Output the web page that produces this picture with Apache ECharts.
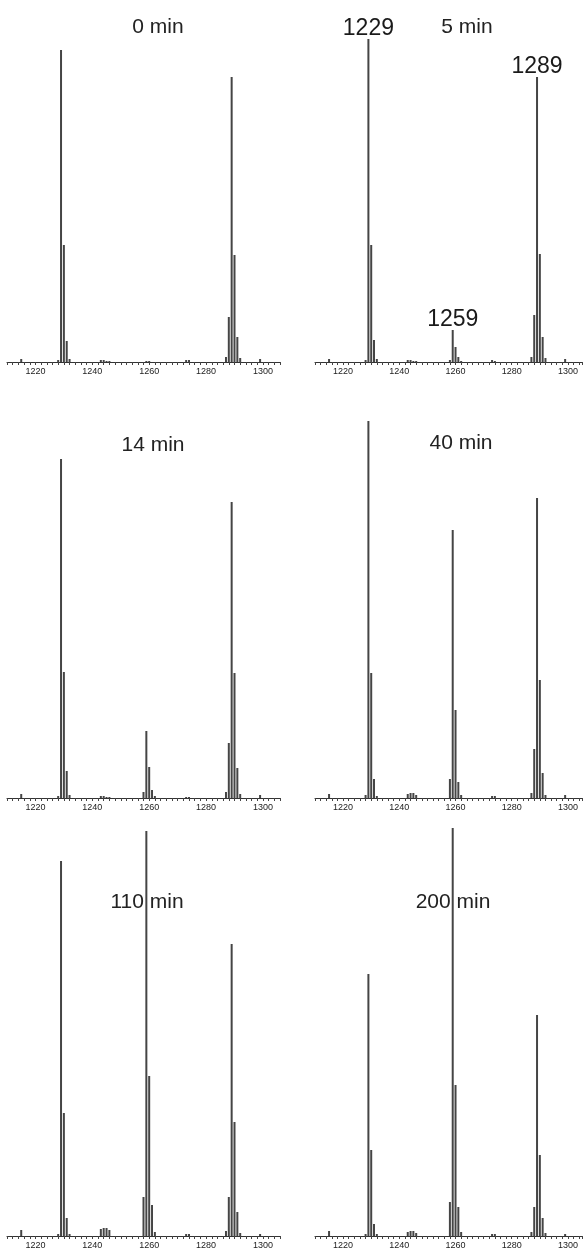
<!DOCTYPE html>
<html>
<head>
<meta charset="utf-8">
<script src="https://cdn.jsdelivr.net/npm/echarts@6/dist/echarts.min.js"></script>
<style>
  html, body { margin: 0; padding: 0; background: #fff; }
  #chart { width: 583px; height: 1250px; }
</style>
</head>
<body>
<div id="chart"></div>
<script>
// m/z of every stick, shared by all six spectra
const mz = [1215, 1228, 1229, 1230, 1231, 1232, 1243, 1244, 1245, 1246,
            1258, 1259, 1260, 1261, 1262, 1273, 1274, 1287, 1288, 1289, 1290, 1291, 1292, 1299];

// intensities (a.u.), same order as mz
const int0   = [3, 2, 312, 117, 21, 3, 2, 2, 1, 1,   0,   1,   1,  0, 0, 2, 2, 5, 45, 285, 107, 25, 4, 3];
const int5   = [3, 2, 323, 117, 22, 3, 2, 2, 1, 1,   2,  32,  15,  5, 1, 2, 1, 5, 47, 285, 108, 25, 4, 3];
const int14  = [4, 2, 339, 126, 27, 3, 2, 2, 1, 1,   6,  67,  31,  8, 2, 1, 1, 6, 55, 296, 125, 30, 4, 3];
const int40  = [4, 3, 377, 125, 19, 2, 4, 5, 5, 3,  19, 268,  88, 16, 3, 2, 2, 5, 49, 300, 118, 25, 3, 3];
const int110 = [6, 2, 375, 123, 18, 2, 7, 8, 8, 6,  39, 405, 160, 31, 4, 2, 2, 5, 39, 292, 114, 24, 3, 2];
const int200 = [5, 2, 262,  86, 12, 2, 4, 5, 5, 3,  34, 408, 151, 29, 4, 2, 2, 4, 29, 221,  81, 18, 3, 2];

const panelTitles = ['0 min', '5 min', '14 min', '40 min', '110 min', '200 min'];
const panelData = [int0, int5, int14, int40, int110, int200];
const tickLabels = [1220, 1240, 1260, 1280, 1300];
// peaks labelled in the "5 min" panel
const labelledPeaks = [1229, 1259, 1289];

const chart = echarts.init(document.getElementById('chart'));

// panel placement
const cols = [
  { left: 7, width: 273, min: 1210, max: 1306 },
  { left: 315, width: 267, min: 1210, max: 1305 }
];
const rows = [
  { top: 12, height: 350 },
  { top: 410, height: 388 },
  { top: 820, height: 416 }
];
const titlePos = [[158, 27], [467, 27], [153, 445], [461, 443], [147, 902], [453, 902]];

const font = 'Liberation Sans, Arial, sans-serif';
const grids = [], xAxes = [], yAxes = [], titles = [], series = [];

panelData.forEach((vals, i) => {
  const c = cols[i % 2], r = rows[Math.floor(i / 2)];
  grids.push({ left: c.left, width: c.width, top: r.top, height: r.height, outerBoundsMode: 'none' });
  xAxes.push({
    type: 'value', gridIndex: i, min: c.min, max: c.max, interval: 2,
    splitLine: { show: false },
    axisLine: { lineStyle: { color: '#333', width: 1 } },
    axisTick: { length: 3, lineStyle: { color: '#444' } },
    axisLabel: {
      fontSize: 9, color: '#222', margin: 5, fontFamily: font,
      formatter: v => (tickLabels.includes(v) ? String(v) : '')
    }
  });
  yAxes.push({ type: 'value', gridIndex: i, min: 0, max: r.height, show: false });
  titles.push({
    text: panelTitles[i], left: titlePos[i][0], top: titlePos[i][1],
    textAlign: 'center', textVerticalAlign: 'middle', padding: 0,
    textStyle: { fontSize: 21, fontWeight: 'normal', color: '#222', fontFamily: font }
  });
  series.push({
    type: 'bar', xAxisIndex: i, yAxisIndex: i, barWidth: 2,
    itemStyle: { color: '#454545' },
    silent: true,
    data: mz.map((m, j) => {
      if (i === 1 && labelledPeaks.includes(m)) {
        return {
          value: [m, vals[j]],
          label: {
            show: true, position: 'top', distance: -1, formatter: String(m),
            fontSize: 23, color: '#1a1a1a', fontFamily: font
          }
        };
      }
      return [m, vals[j]];
    })
  });
});

chart.setOption({
  animation: false,
  backgroundColor: '#fff',
  title: titles,
  grid: grids,
  xAxis: xAxes,
  yAxis: yAxes,
  series: series
});
</script>
</body>
</html>
